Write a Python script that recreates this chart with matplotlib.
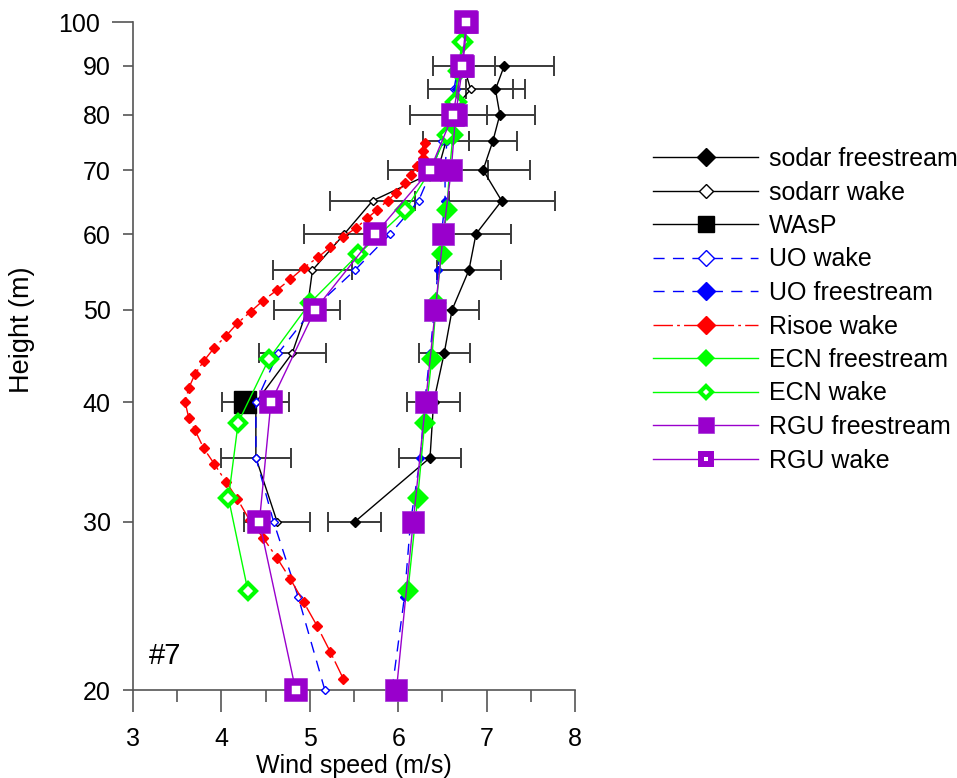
import numpy as np
import matplotlib
matplotlib.use("Agg")
import matplotlib.pyplot as plt
from matplotlib.markers import MarkerStyle
from matplotlib.ticker import FixedLocator, NullLocator, FixedFormatter

plt.rcParams['font.family'] = ['Liberation Sans', 'DejaVu Sans']
plt.rcParams['font.size'] = 18

# ---- data ----
h_sodar = [30, 35, 40, 45, 50, 55, 60, 65, 70, 75, 80, 85, 90]
sodar_free = [5.51, 6.36, 6.40, 6.52, 6.61, 6.80, 6.88, 7.17, 6.96, 7.07, 7.15, 7.10, 7.20]
sodar_free_err = [0.30, 0.35, 0.30, 0.29, 0.30, 0.36, 0.40, 0.60, 0.53, 0.27, 0.40, 0.33, 0.56]
sodar_wake = [4.63, 4.39, 4.39, 4.80, 4.97, 5.03, 5.39, 5.71, 6.45, 6.54, 6.57, 6.82, 6.74]
sodar_wake_err = [0.37, 0.40, 0.38, 0.38, 0.37, 0.45, 0.46, 0.48, 0.57, 0.26, 0.44, 0.48, 0.35]

h_wasp = [40]
wasp = [4.27]

h_uo = [20, 25, 30, 35, 40, 45, 50, 55, 60, 65, 70, 75, 80, 85, 90]
uo_wake = [5.17, 4.87, 4.59, 4.39, 4.39, 4.64, 5.03, 5.51, 5.91, 6.23, 6.38, 6.50, 6.58, 6.63, 6.68]
uo_free = [5.93, 6.07, 6.14, 6.25, 6.30, 6.36, 6.41, 6.45, 6.49, 6.53, 6.53, 6.55, 6.60, 6.65, 6.68]

h_risoe = [20.54, 21.94, 23.36, 24.72, 26.13, 27.48, 28.88, 30.10, 31.70, 33.04,
           34.48, 35.80, 37.42, 38.55, 40.00, 41.38, 42.79, 44.18, 45.63, 46.92,
           48.38, 49.76, 51.10, 52.43, 53.81, 55.31, 56.71, 58.10, 59.62, 60.84,
           62.32, 63.59, 65.02, 66.29, 67.80, 69.17, 70.68, 72.12, 73.34, 74.76]
risoe_wake = [5.38, 5.23, 5.08, 4.93, 4.78, 4.63, 4.47, 4.32, 4.18, 4.05,
              3.92, 3.80, 3.70, 3.63, 3.59, 3.63, 3.70, 3.80, 3.92, 4.05,
              4.18, 4.33, 4.47, 4.63, 4.78, 4.93, 5.09, 5.23, 5.38, 5.52,
              5.65, 5.76, 5.88, 5.98, 6.08, 6.15, 6.21, 6.28, 6.28, 6.30]

h_ecn = [25.40, 31.75, 38.10, 44.45, 50.80, 57.15, 63.50, 69.85, 76.20, 82.55, 88.90, 95.25]
ecn_free = [6.11, 6.22, 6.30, 6.38, 6.43, 6.49, 6.55, 6.58, 6.62, 6.66, 6.69, 6.73]
ecn_wake = [4.30, 4.08, 4.19, 4.54, 5.00, 5.55, 6.08, 6.36, 6.55, 6.64, 6.68, 6.72]

h_rgu = [20, 30, 40, 50, 60, 70, 80, 90, 100]
rgu_free = [5.98, 6.17, 6.31, 6.42, 6.51, 6.60, 6.65, 6.73, 6.78]
rgu_wake = [4.84, 4.43, 4.56, 5.06, 5.74, 6.36, 6.62, 6.72, 6.77]

y_ticks = [20, 30, 40, 50, 60, 70, 80, 90]
y_top = [100]
x_ticks = [3, 4, 5, 6, 7, 8]
x_minor = [3.5, 4.5, 5.5, 6.5, 7.5]

green = '#00ff00'
purple = '#9900cc'
axis_grey = '#555555'
sq_miter = MarkerStyle('s', joinstyle='miter')
dm_miter = MarkerStyle('D', joinstyle='miter')

fig = plt.figure(figsize=(9.57, 7.78), dpi=100)
ax = fig.add_axes([133 / 957, 88 / 778, 442 / 957, 668 / 778])

# error bars first, under everything
for xs, errs in [(sodar_free, sodar_free_err), (sodar_wake, sodar_wake_err)]:
    ax.errorbar(xs, h_sodar, xerr=errs, fmt='none', ecolor='#3a3a3a',
                elinewidth=1.4, capsize=7, capthick=1.4, zorder=1)

ax.plot(sodar_free, h_sodar, color='black', lw=1, marker='D', ms=5, mec='black',
        label='sodar freestream', zorder=3)
ax.plot(sodar_wake, h_sodar, color='black', lw=1, marker='D', ms=4.5, mfc='white',
        mec='black', mew=1, label='sodarr wake', zorder=3)
ax.plot(wasp, h_wasp, color='black', lw=1, marker='s', ms=16.5, label='WAsP', zorder=3)
ax.plot(uo_wake, h_uo, color='blue', lw=1, dashes=(8, 6), marker='D', ms=3.8,
        mfc='white', mec='blue', mew=1, label='UO wake', zorder=4)
ax.plot(uo_free, h_uo, color='blue', lw=1, dashes=(8, 6), marker='D', ms=3.8,
        mec='blue', label='UO freestream', zorder=4)
ax.plot(risoe_wake, h_risoe, color='red', lw=1, dashes=(14, 3, 2, 3), marker='D',
        ms=4.8, mec='red', label='Risoe wake', zorder=4)
ax.plot(ecn_free, h_ecn, color=green, lw=1, marker=dm_miter, ms=11.5, mew=0,
        label='ECN freestream', zorder=5)
ax.plot(ecn_wake, h_ecn, color=green, lw=1, marker=dm_miter, ms=8.1, mfc='white',
        mec=green, mew=3, label='ECN wake', zorder=5)
ax.plot(rgu_free, h_rgu, color=purple, lw=1, marker=sq_miter, ms=16, mew=0.5,
        mec='#a030d8', label='RGU freestream', zorder=6)
ax.plot(rgu_wake, h_rgu, color=purple, lw=1, marker=sq_miter, ms=11.2, mfc='white',
        mec=purple, mew=5.4, label='RGU wake', zorder=6)
for ln in ax.lines:
    ln.set_clip_on(False)

ax.text(3.18, 21.0, '#7', fontsize=21, ha='left', va='bottom')

ax.set_yscale('log')
ax.set_ylim(20, 100)
ax.set_xlim(3, 8)
# 100 has a longer tick than the others in the original
ax.yaxis.set_major_locator(FixedLocator(y_top))
ax.yaxis.set_major_formatter(FixedFormatter([str(t) for t in y_top]))
ax.yaxis.set_minor_locator(FixedLocator(y_ticks))
ax.yaxis.set_minor_formatter(FixedFormatter([str(t) for t in y_ticks]))
ax.xaxis.set_major_locator(FixedLocator(x_ticks))
ax.xaxis.set_minor_locator(FixedLocator(x_minor))

for s in ['top', 'right']:
    ax.spines[s].set_visible(False)
for s in ['left', 'bottom']:
    ax.spines[s].set_color(axis_grey)
    ax.spines[s].set_linewidth(1.2)

ax.tick_params(axis='x', which='major', direction='out', length=16, width=1.2,
               color=axis_grey, pad=11)
ax.tick_params(axis='x', which='minor', direction='out', length=8.5, width=1.2,
               color=axis_grey)
ax.tick_params(axis='y', which='major', direction='out', length=15, width=1.2,
               color=axis_grey, pad=9, labelsize=18)
ax.tick_params(axis='y', which='minor', direction='out', length=7, width=1.2,
               color=axis_grey, pad=9, labelsize=18)

ax.set_xlabel('Wind speed (m/s)', labelpad=2)
ax.set_ylabel('Height (m)', fontsize=19.5)
ax.yaxis.set_label_coords(-0.222, 0.54)

leg = ax.legend(loc='upper left', bbox_to_anchor=(653 / 957, 1 - 147 / 778),
                bbox_transform=fig.transFigure, frameon=False, numpoints=1,
                handlelength=4.2, handletextpad=0.45, labelspacing=0.38,
                borderpad=0, borderaxespad=0)
leg_sizes = {'sodar freestream': (9.2, None), 'sodarr wake': (7.6, None),
             'WAsP': (12, None), 'UO wake': (8, None), 'UO freestream': (9, None),
             'Risoe wake': (9, None), 'ECN freestream': (9, None),
             'ECN wake': (6.1, 3), 'RGU freestream': (12, None), 'RGU wake': (7.9, 4.3)}
for hnd, txt in zip(leg.legend_handles, leg.get_texts()):
    ms, mew = leg_sizes[txt.get_text()]
    hnd.set_markersize(ms)
    if mew is not None:
        hnd.set_markeredgewidth(mew)

fig.savefig('out.png', dpi=100)
